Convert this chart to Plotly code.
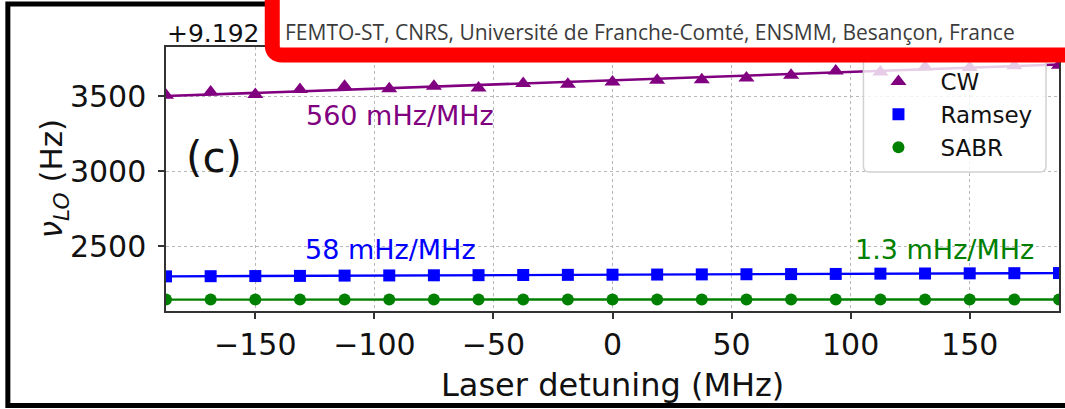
import plotly.graph_objects as go

# ---- data -------------------------------------------------------------
detuning_mhz = [-187.5, -168.75, -150, -131.25, -112.5, -93.75, -75, -56.25,
                -37.5, -18.75, 0, 18.75, 37.5, 56.25, 75, 93.75, 112.5,
                131.25, 150, 168.75, 187.5]

cw_vlo = [3505, 3527, 3511, 3543, 3565, 3549, 3565, 3553, 3583, 3578, 3593,
          3605, 3609, 3620, 3638, 3667, 3660, 3693, 3690, 3702, 3705]
ramsey_vlo = [2298, 2299, 2300, 2301, 2303, 2304, 2305, 2306, 2307, 2308, 2309,
              2310, 2311, 2312, 2313, 2314, 2316, 2317, 2318, 2319, 2320]
sabr_vlo = [2143, 2143, 2143, 2143, 2143, 2143, 2143, 2143, 2143, 2143, 2143,
            2143, 2143, 2143, 2143, 2144, 2143, 2144, 2143, 2143, 2144]

# linear fits: slope in mHz/MHz, value at the left end of the scan in Hz
cw_slope, cw_start = 560, 3500
ramsey_slope, ramsey_start = 58, 2298
sabr_slope, sabr_start = 1.3, 2143

x_ticks = [-150, -100, -50, 0, 50, 100, 150]
y_ticks = [2500, 3000, 3500]
x_range = [-187.5, 187.5]
y_range = [2067, 3827]

series_names = ["CW", "Ramsey", "SABR"]
offset_label = "+9.192"
affiliation = "FEMTO-ST, CNRS, Université de Franche-Comté, ENSMM, Besançon, France"

# ---- geometry helpers ---------------------------------------------------
W, H = 1065, 409
ML, MR, MT, MB = 166, 4, 47, 98
PW, PH = W - ML - MR, H - MT - MB


def px(x):
    return (x - ML) / PW


def py(y):
    return (H - MB - y) / PH


FONT = "DejaVu Sans"
PURPLE, BLUE, GREEN = "purple", "#0000ff", "#008000"


def fit_line(start, slope):
    xs = list(x_range)
    return xs, [start + slope / 1000.0 * (x - x_range[0]) for x in xs]


fig = go.Figure()

for start, slope, color, width in [(cw_start, cw_slope, PURPLE, 2.6),
                                   (ramsey_start, ramsey_slope, BLUE, 2.4),
                                   (sabr_start, sabr_slope, GREEN, 2.4)]:
    fx, fy = fit_line(start, slope)
    fig.add_trace(go.Scatter(x=fx, y=fy, mode="lines", showlegend=False,
                             line=dict(color=color, width=width),
                             hoverinfo="skip"))

fig.add_trace(go.Scatter(x=detuning_mhz, y=cw_vlo, mode="markers",
                         name=series_names[0],
                         marker=dict(symbol="triangle-up", size=14, color=PURPLE)))
fig.add_trace(go.Scatter(x=detuning_mhz, y=ramsey_vlo, mode="markers",
                         name=series_names[1],
                         marker=dict(symbol="square", size=12, color=BLUE)))
fig.add_trace(go.Scatter(x=detuning_mhz, y=sabr_vlo, mode="markers",
                         name=series_names[2],
                         marker=dict(symbol="circle", size=12, color=GREEN)))

axis_common = dict(
    showline=True, linecolor="#333333", linewidth=1.5, mirror=True,
    ticks="outside", ticklen=6, tickwidth=1.5, tickcolor="#333333",
    showgrid=True, gridcolor="#b8b8b8", griddash="dot", gridwidth=1,
    zeroline=False, tickfont=dict(family=FONT, size=30, color="#111111"),
)

fig.update_xaxes(range=x_range, tickvals=x_ticks, ticklabelstandoff=0, **axis_common)
fig.update_yaxes(range=y_range, tickvals=y_ticks, ticklabelstandoff=6, **axis_common)


def rounded_rect(x0, y0, x1, y1, r):
    return (f"M {px(x0 + r)},{py(y0)} H {px(x1 - r)} "
            f"Q {px(x1)},{py(y0)} {px(x1)},{py(y0 + r)} V {py(y1 - r)} "
            f"Q {px(x1)},{py(y1)} {px(x1 - r)},{py(y1)} H {px(x0 + r)} "
            f"Q {px(x0)},{py(y1)} {px(x0)},{py(y1 - r)} V {py(y0 + r)} "
            f"Q {px(x0)},{py(y0)} {px(x0 + r)},{py(y0)} Z")


shapes = [
    # outer frame
    dict(type="rect", xref="paper", yref="paper", layer="above",
         x0=px(7.5), x1=px(1120), y0=py(405.5), y1=py(4),
         line=dict(color="black", width=5), fillcolor="rgba(0,0,0,0)"),
    # legend frame
    dict(type="path", xref="paper", yref="paper", layer="above",
         path=rounded_rect(865, 50, 1048, 172, 6),
         fillcolor="rgba(255,255,255,0.8)",
         line=dict(color="#d2d2d2", width=1.5)),
    # banner
    dict(type="path", xref="paper", yref="paper", layer="above",
         path=(f"M {px(272.5)},{py(-30)} V {py(45)} "
               f"Q {px(272.5)},{py(55)} {px(282.5)},{py(55)} "
               f"H {px(1130)} V {py(-30)} Z"),
         fillcolor="white", line=dict(color="#ff0000", width=15)),
]

annotations = [
    dict(text=offset_label, x=px(262), y=py(34), xanchor="right", yanchor="middle",
         font=dict(family=FONT, size=25, color="#111111")),
    dict(text="(c)", x=px(214), y=py(157), xanchor="center", yanchor="middle",
         font=dict(family=FONT, size=42, color="#111111")),
    dict(text=f"{cw_slope:g} mHz/MHz", x=px(401), y=py(115), xanchor="center",
         yanchor="middle", font=dict(family=FONT, size=27, color=PURPLE)),
    dict(text=f"{ramsey_slope:g} mHz/MHz", x=px(391), y=py(249), xanchor="center",
         yanchor="middle", font=dict(family=FONT, size=27, color=BLUE)),
    dict(text=f"{sabr_slope:g} mHz/MHz", x=px(946), y=py(249), xanchor="center",
         yanchor="middle", font=dict(family=FONT, size=27, color=GREEN)),
    dict(text="Laser detuning (MHz)", x=px(613.5), y=py(385), xanchor="center",
         yanchor="middle", font=dict(family=FONT, size=32, color="#111111")),
    dict(text="<i>ν</i><sub><i>LO</i></sub> (Hz)", x=px(53), y=py(179),
         xanchor="center", yanchor="middle", textangle=-90,
         font=dict(family=FONT, size=31, color="#111111")),
    dict(text=affiliation, x=px(283), y=py(32), xanchor="left", yanchor="middle",
         font=dict(family="Open Sans", size=21, color="#3c3c3c")),
]
for a in annotations:
    a.update(xref="paper", yref="paper", showarrow=False)

fig.update_layout(
    width=W, height=H,
    margin=dict(l=ML, r=MR, t=MT, b=MB, pad=0),
    paper_bgcolor="white", plot_bgcolor="white",
    shapes=shapes, annotations=annotations,
    legend=dict(x=px(858), y=py(60), xanchor="left", yanchor="top",
                bgcolor="rgba(0,0,0,0)", borderwidth=0, itemwidth=74,
                font=dict(family=FONT, size=23, color="#111111"),
                tracegroupgap=0),
    showlegend=True,
)

fig.write_html("out.html")
